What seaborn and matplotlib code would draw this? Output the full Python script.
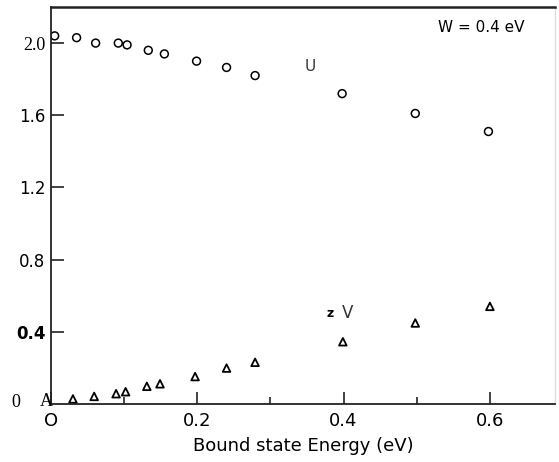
# Bound state energy chart: U (circles) and V (triangles) for W = 0.4 eV
# Values read off a scanned figure, so they are estimates.

import pandas as pd                # table data for seaborn
import seaborn as sns              # scatter plots
import matplotlib.pyplot as plt    # figure layout and text

# U values (open circles)
u_energy = [0.005, 0.035, 0.061, 0.092, 0.104, 0.133, 0.155, 0.199, 0.24, 0.279, 0.398, 0.498, 0.598]
u_value = [2.04, 2.03, 2.0, 2.0, 1.99, 1.96, 1.94, 1.90, 1.865, 1.82, 1.72, 1.61, 1.51]

# V values (open triangles)
v_energy = [0.03, 0.059, 0.089, 0.102, 0.131, 0.149, 0.197, 0.24, 0.279, 0.399, 0.498, 0.6]
v_value = [0.028, 0.042, 0.057, 0.068, 0.098, 0.112, 0.152, 0.199, 0.231, 0.345, 0.449, 0.541]

# axis ticks and their labels
x_ticks = [0.0, 0.2, 0.4, 0.6]
x_tick_labels = ["O", "0.2", "0.4", "0.6"]
x_minor_ticks = [0.1, 0.3, 0.5]
y_ticks = [0.4, 0.8, 1.2, 1.6, 2.0]
y_tick_labels = ["0.4", "0.8", "1.2", "1.6", "2.0"]

u_df = pd.DataFrame({"Energy": u_energy, "Value": u_value})
v_df = pd.DataFrame({"Energy": v_energy, "Value": v_value})

sns.set_theme(style="ticks")
plt.rcParams["font.family"] = ["DejaVu Sans"]
plt.rcParams["text.color"] = "black"
plt.rcParams["xtick.labelcolor"] = "black"
plt.rcParams["ytick.labelcolor"] = "black"
plt.rcParams["axes.labelcolor"] = "black"

fig = plt.figure(figsize=(5.59, 4.62), dpi=100)
ax = fig.add_axes([51 / 559, 58 / 462, (555 - 51) / 559, (404 - 7) / 462])

# circles for U
sns.scatterplot(data=u_df, x="Energy", y="Value", ax=ax, marker="o", s=32,
                facecolor="none", edgecolor="black", linewidth=1.1)
# triangles for V
sns.scatterplot(data=v_df, x="Energy", y="Value", ax=ax, marker="^", s=30,
                facecolor="none", edgecolor="black", linewidth=1.3)

ax.set_xlim(0, 0.689)
ax.set_ylim(0, 2.2)

# ticks point inward like the original
ax.set_xticks(x_ticks)
ax.set_xticklabels(x_tick_labels, fontsize=13)
ax.set_xticks(x_minor_ticks, minor=True)
ax.set_yticks(y_ticks)
ax.set_yticklabels(y_tick_labels, fontsize=12)
ax.tick_params(axis="both", which="major", direction="in", length=9, width=1.2,
               color="#222222")
ax.tick_params(axis="x", which="major", pad=6)
ax.tick_params(axis="x", which="minor", direction="in", length=5, width=1.2,
               color="#222222")
ax.tick_params(axis="y", which="major", pad=4)

# the scanned labels use a mix of fonts
for lbl in ax.get_yticklabels():
    if lbl.get_text() == "2.0":
        lbl.set_family("Liberation Serif")
        lbl.set_fontsize(13)
    if lbl.get_text() == "0.4":
        lbl.set_fontweight("bold")

ax.set_xlabel("Bound state Energy (eV)", fontsize=13, labelpad=5)
ax.set_ylabel("")

# frame: dark left/top/bottom, faint right
for side in ["left", "top", "bottom"]:
    ax.spines[side].set_color("#222222")
    ax.spines[side].set_linewidth(1.3)
ax.spines["top"].set_linewidth(1.8)
ax.spines["right"].set_color("#dddddd")
ax.spines["right"].set_linewidth(1.0)

# curve labels and the parameter note
ax.text(0.355, 1.87, "U", fontsize=11, ha="center", va="center", color="#333333")
ax.text(0.381, 0.504, "z", fontsize=9, fontweight="bold", ha="center", va="center")
ax.text(0.405, 0.504, "V", fontsize=12, ha="center", va="center", color="#333333")
ax.text(0.588, 2.085, "W = 0.4 eV", fontsize=11, ha="center", va="center")

# the "0 A" at the origin
ax.text(-0.048, 0.008, "0", fontsize=13, family="Liberation Serif", ha="center",
        va="center", clip_on=False)
ax.text(-0.007, 0.012, "A", fontsize=13, family="Liberation Serif", ha="center",
        va="center", clip_on=False)

fig.savefig("out.png", dpi=100)
